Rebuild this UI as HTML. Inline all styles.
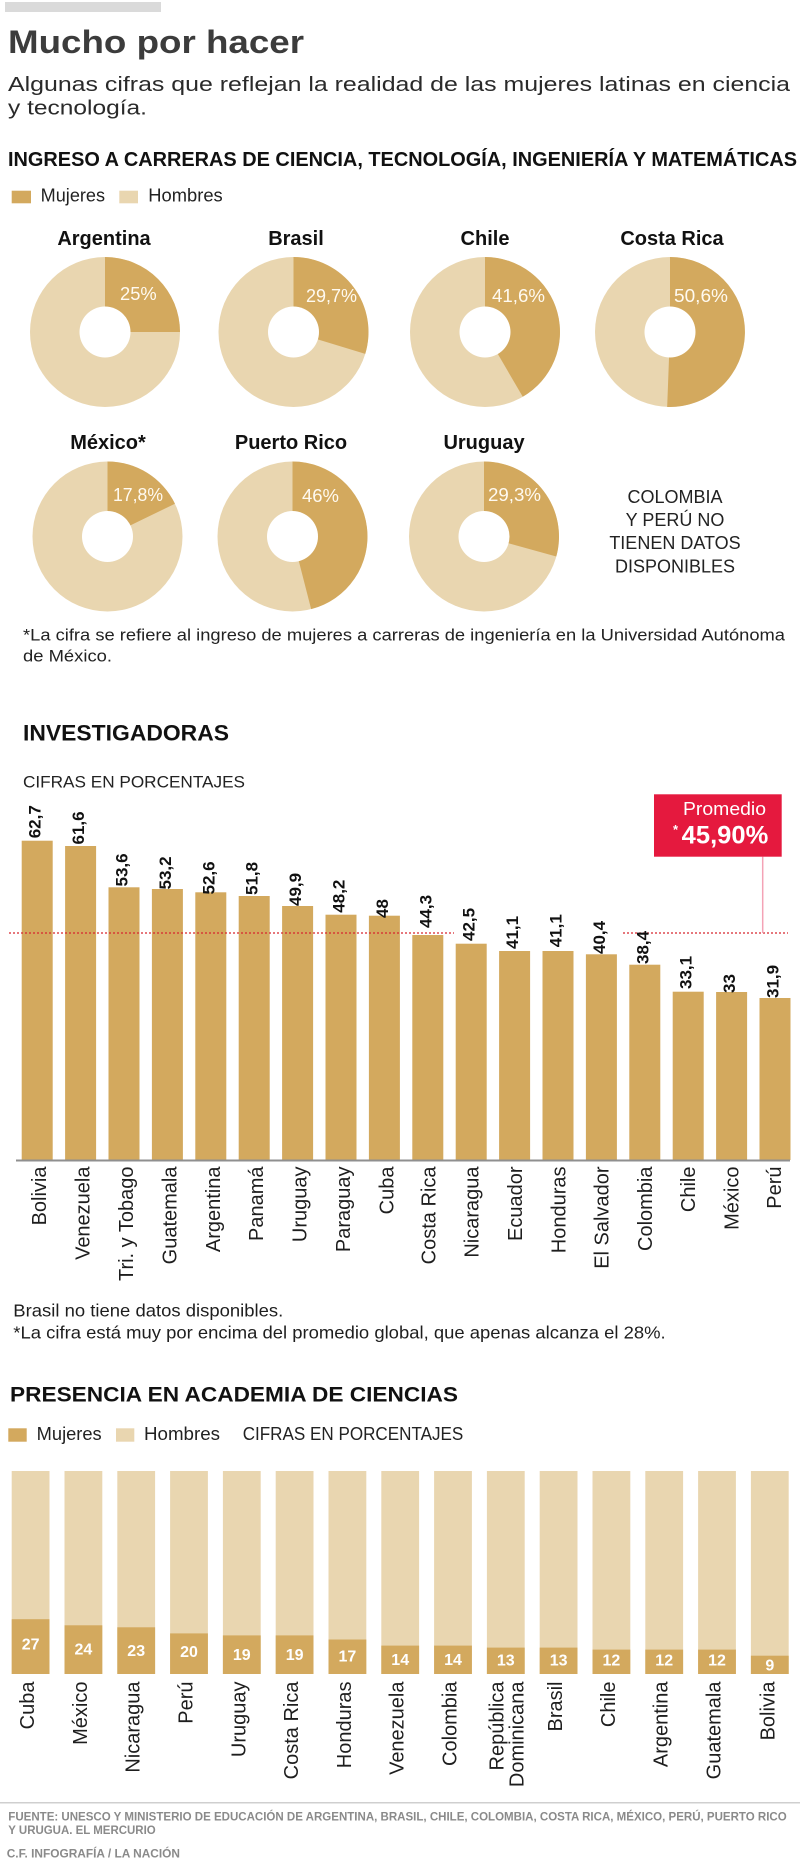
<!DOCTYPE html>
<html>
<head>
<meta charset="utf-8">
<style>
html,body{margin:0;padding:0;background:#fff;}
svg{display:block;}
text{font-family:"Liberation Sans","DejaVu Sans",sans-serif;}
</style>
</head>
<body>
<svg width="800" height="1869" viewBox="0 0 800 1869" xmlns="http://www.w3.org/2000/svg">
<rect x="0" y="0" width="800" height="1869" fill="#fff"/>
<!-- top gray bar -->
<rect x="5" y="2" width="156" height="10" fill="#dadada"/>
<!-- title -->
<text x="8" y="53" font-size="32" font-weight="bold" fill="#3c3c3c" textLength="296" lengthAdjust="spacingAndGlyphs">Mucho por hacer</text>
<text x="8" y="91" font-size="20.5" fill="#2a2a2a" textLength="782" lengthAdjust="spacingAndGlyphs">Algunas cifras que reflejan la realidad de las mujeres latinas en ciencia</text>
<text x="8" y="114.5" font-size="20.5" fill="#2a2a2a" textLength="139" lengthAdjust="spacingAndGlyphs">y tecnología.</text>

<!-- section 1 -->
<text x="8" y="166" font-size="20" font-weight="bold" fill="#111" textLength="789" lengthAdjust="spacingAndGlyphs">INGRESO A CARRERAS DE CIENCIA, TECNOLOGÍA, INGENIERÍA Y MATEMÁTICAS</text>
<rect x="11.7" y="190.7" width="19.3" height="12.6" fill="#d3a95e"/>
<text x="40.7" y="201.7" font-size="18" fill="#222" textLength="64.3" lengthAdjust="spacingAndGlyphs">Mujeres</text>
<rect x="119.3" y="190.7" width="18.7" height="12.6" fill="#e9d6b0"/>
<text x="148.3" y="201.7" font-size="18" fill="#222" textLength="74.4" lengthAdjust="spacingAndGlyphs">Hombres</text>

<g font-size="20" font-weight="bold" fill="#111" text-anchor="middle">
<text x="104" y="245">Argentina</text>
<text x="296" y="245">Brasil</text>
<text x="485" y="245">Chile</text>
<text x="672" y="245">Costa Rica</text>
<text x="108" y="449">México*</text>
<text x="291" y="449">Puerto Rico</text>
<text x="484" y="449">Uruguay</text>
</g>

<!-- donuts -->
<g>
<circle cx="105" cy="332" r="75" fill="#e9d6b0"/>
<path d="M105 332 L105 257 A75 75 0 0 1 180 332 Z" fill="#d3a95e"/>
<circle cx="105" cy="332" r="25.5" fill="#fff"/>

<circle cx="293.5" cy="332" r="75" fill="#e9d6b0"/>
<path d="M293.5 332 L293.5 257 A75 75 0 0 1 365.25 353.83 Z" fill="#d3a95e"/>
<circle cx="293.5" cy="332" r="25.5" fill="#fff"/>

<circle cx="485" cy="332" r="75" fill="#e9d6b0"/>
<path d="M485 332 L485 257 A75 75 0 0 1 522.77 396.79 Z" fill="#d3a95e"/>
<circle cx="485" cy="332" r="25.5" fill="#fff"/>

<circle cx="670" cy="332" r="75" fill="#e9d6b0"/>
<path d="M670 332 L670 257 A75 75 0 1 1 667.17 406.95 Z" fill="#d3a95e"/>
<circle cx="670" cy="332" r="25.5" fill="#fff"/>

<circle cx="107.5" cy="536.5" r="75" fill="#e9d6b0"/>
<path d="M107.5 536.5 L107.5 461.5 A75 75 0 0 1 174.96 503.72 Z" fill="#d3a95e"/>
<circle cx="107.5" cy="536.5" r="25.5" fill="#fff"/>

<circle cx="292.5" cy="536.5" r="75" fill="#e9d6b0"/>
<path d="M292.5 536.5 L292.5 461.5 A75 75 0 0 1 311.15 609.14 Z" fill="#d3a95e"/>
<circle cx="292.5" cy="536.5" r="25.5" fill="#fff"/>

<circle cx="484" cy="536.5" r="75" fill="#e9d6b0"/>
<path d="M484 536.5 L484 461.5 A75 75 0 0 1 556.28 556.52 Z" fill="#d3a95e"/>
<circle cx="484" cy="536.5" r="25.5" fill="#fff"/>
</g>
<g font-size="18" fill="#fffaf0">
<text x="120" y="300" textLength="36.7" lengthAdjust="spacingAndGlyphs">25%</text>
<text x="306" y="302" textLength="51" lengthAdjust="spacingAndGlyphs">29,7%</text>
<text x="492" y="302" textLength="53" lengthAdjust="spacingAndGlyphs">41,6%</text>
<text x="674" y="302" textLength="54" lengthAdjust="spacingAndGlyphs">50,6%</text>
<text x="113" y="501" textLength="50" lengthAdjust="spacingAndGlyphs">17,8%</text>
<text x="302" y="502" textLength="37" lengthAdjust="spacingAndGlyphs">46%</text>
<text x="488" y="501" textLength="53" lengthAdjust="spacingAndGlyphs">29,3%</text>
</g>
<g font-size="18" fill="#222" text-anchor="middle">
<text x="675" y="503">COLOMBIA</text>
<text x="675" y="526">Y PERÚ NO</text>
<text x="675" y="549">TIENEN DATOS</text>
<text x="675" y="572.5">DISPONIBLES</text>
</g>
<text x="23" y="640.7" font-size="17" fill="#222" textLength="762" lengthAdjust="spacingAndGlyphs">*La cifra se refiere al ingreso de mujeres a carreras de ingeniería en la Universidad Autónoma</text>
<text x="23" y="661.7" font-size="17" fill="#222" textLength="89" lengthAdjust="spacingAndGlyphs">de México.</text>

<!-- section 2 -->
<text x="23" y="740.7" font-size="22" font-weight="bold" fill="#111" textLength="206" lengthAdjust="spacingAndGlyphs">INVESTIGADORAS</text>
<text x="23" y="787.3" font-size="17" fill="#222" textLength="222" lengthAdjust="spacingAndGlyphs">CIFRAS EN PORCENTAJES</text>

<!-- bars -->
<g fill="#d3a95e">
<rect x="21.7" y="840.7" width="31" height="319.3"/>
<rect x="65.1" y="846" width="31" height="314"/>
<rect x="108.5" y="887.3" width="31" height="272.7"/>
<rect x="151.9" y="889" width="31" height="271"/>
<rect x="195.3" y="892.3" width="31" height="267.7"/>
<rect x="238.7" y="896" width="31" height="264"/>
<rect x="282.1" y="906" width="31" height="254"/>
<rect x="325.5" y="914.7" width="31" height="245.3"/>
<rect x="368.9" y="915.7" width="31" height="244.3"/>
<rect x="412.3" y="935" width="31" height="225"/>
<rect x="455.7" y="943.7" width="31" height="216.3"/>
<rect x="499.1" y="951" width="31" height="209"/>
<rect x="542.5" y="951" width="31" height="209"/>
<rect x="585.9" y="954.3" width="31" height="205.7"/>
<rect x="629.3" y="964.7" width="31" height="195.3"/>
<rect x="672.7" y="991.7" width="31" height="168.3"/>
<rect x="716.1" y="992" width="31" height="168"/>
<rect x="759.5" y="998" width="31" height="162"/>
</g>
<rect x="16" y="1159.5" width="774" height="2" fill="#8f8f8f"/>

<!-- average line -->
<line x1="9" y1="933" x2="454" y2="933" stroke="#d8262f" stroke-width="1.2" stroke-dasharray="2 2"/>
<line x1="623" y1="933" x2="788" y2="933" stroke="#d8262f" stroke-width="1.2" stroke-dasharray="2 2"/>
<line x1="762.7" y1="856.7" x2="762.7" y2="933" stroke="#f4a3b6" stroke-width="1.5"/>
<rect x="654" y="794.3" width="127.7" height="62.4" fill="#e5193e"/>
<text x="683" y="815" font-size="18" fill="#fff" textLength="83" lengthAdjust="spacingAndGlyphs">Promedio</text>
<text x="673" y="834" font-size="13" font-weight="bold" fill="#fff">*</text>
<text x="681.7" y="843.3" font-size="25" font-weight="bold" fill="#fff" textLength="86.6" lengthAdjust="spacingAndGlyphs">45,90%</text>

<!-- value labels -->
<g font-size="17" font-weight="bold" fill="#111">
<text transform="translate(40.7 838.3) rotate(-90)">62,7</text>
<text transform="translate(84.1 844.5) rotate(-90)">61,6</text>
<text transform="translate(127.5 886.5) rotate(-90)">53,6</text>
<text transform="translate(170.9 889.5) rotate(-90)">53,2</text>
<text transform="translate(214.3 894.5) rotate(-90)">52,6</text>
<text transform="translate(257.7 895) rotate(-90)">51,8</text>
<text transform="translate(301.1 906) rotate(-90)">49,9</text>
<text transform="translate(344.5 912.7) rotate(-90)">48,2</text>
<text transform="translate(387.9 918) rotate(-90)">48</text>
<text transform="translate(431.3 928) rotate(-90)">44,3</text>
<text transform="translate(474.7 941) rotate(-90)">42,5</text>
<text transform="translate(518.1 949) rotate(-90)">41,1</text>
<text transform="translate(561.5 947.3) rotate(-90)">41,1</text>
<text transform="translate(604.9 954) rotate(-90)">40,4</text>
<text transform="translate(648.3 964) rotate(-90)">38,4</text>
<text transform="translate(691.7 989) rotate(-90)">33,1</text>
<text transform="translate(735.1 993) rotate(-90)">33</text>
<text transform="translate(778.5 998) rotate(-90)">31,9</text>
</g>

<!-- country labels -->
<g font-size="20" fill="#1e1e1e" text-anchor="end">
<text transform="translate(46.2 1166.5) rotate(-90)">Bolivia</text>
<text transform="translate(89.6 1166.5) rotate(-90)">Venezuela</text>
<text transform="translate(133 1166.5) rotate(-90)">Tri. y Tobago</text>
<text transform="translate(176.4 1166.5) rotate(-90)">Guatemala</text>
<text transform="translate(219.8 1166.5) rotate(-90)">Argentina</text>
<text transform="translate(263.2 1166.5) rotate(-90)">Panamá</text>
<text transform="translate(306.6 1166.5) rotate(-90)">Uruguay</text>
<text transform="translate(350 1166.5) rotate(-90)">Paraguay</text>
<text transform="translate(393.4 1166.5) rotate(-90)">Cuba</text>
<text transform="translate(435.3 1166.5) rotate(-90)">Costa Rica</text>
<text transform="translate(478.7 1166.5) rotate(-90)">Nicaragua</text>
<text transform="translate(522.1 1166.5) rotate(-90)">Ecuador</text>
<text transform="translate(565.5 1166.5) rotate(-90)">Honduras</text>
<text transform="translate(608.4 1166.5) rotate(-90)">El Salvador</text>
<text transform="translate(651.8 1166.5) rotate(-90)">Colombia</text>
<text transform="translate(695.2 1166.5) rotate(-90)">Chile</text>
<text transform="translate(738.6 1166.5) rotate(-90)">México</text>
<text transform="translate(781 1166.5) rotate(-90)">Perú</text>
</g>

<text x="13.3" y="1316.7" font-size="17.5" fill="#1e1e1e" textLength="270" lengthAdjust="spacingAndGlyphs">Brasil no tiene datos disponibles.</text>
<text x="13.3" y="1338.3" font-size="17.5" fill="#1e1e1e" textLength="652.4" lengthAdjust="spacingAndGlyphs">*La cifra está muy por encima del promedio global, que apenas alcanza el 28%.</text>

<!-- section 3 -->
<text x="10" y="1401.7" font-size="21" font-weight="bold" fill="#111" textLength="448" lengthAdjust="spacingAndGlyphs">PRESENCIA EN ACADEMIA DE CIENCIAS</text>
<rect x="8.3" y="1428.3" width="18.4" height="13.4" fill="#d3a95e"/>
<text x="36.7" y="1440" font-size="18" fill="#222" textLength="65" lengthAdjust="spacingAndGlyphs">Mujeres</text>
<rect x="116" y="1428.3" width="18.3" height="13.4" fill="#e9d6b0"/>
<text x="144" y="1440" font-size="18" fill="#222" textLength="76" lengthAdjust="spacingAndGlyphs">Hombres</text>
<text x="242.7" y="1440" font-size="18" fill="#222" textLength="220.6" lengthAdjust="spacingAndGlyphs">CIFRAS EN PORCENTAJES</text>

<g fill="#e9d6b0">
<rect x="11.7" y="1471" width="37.8" height="203"/>
<rect x="64.5" y="1471" width="37.8" height="203"/>
<rect x="117.3" y="1471" width="37.8" height="203"/>
<rect x="170.1" y="1471" width="37.8" height="203"/>
<rect x="222.9" y="1471" width="37.8" height="203"/>
<rect x="275.7" y="1471" width="37.8" height="203"/>
<rect x="328.5" y="1471" width="37.8" height="203"/>
<rect x="381.3" y="1471" width="37.8" height="203"/>
<rect x="434.1" y="1471" width="37.8" height="203"/>
<rect x="486.9" y="1471" width="37.8" height="203"/>
<rect x="539.7" y="1471" width="37.8" height="203"/>
<rect x="592.5" y="1471" width="37.8" height="203"/>
<rect x="645.3" y="1471" width="37.8" height="203"/>
<rect x="698.1" y="1471" width="37.8" height="203"/>
<rect x="750.9" y="1471" width="37.8" height="203"/>
</g>
<g fill="#d3a95e">
<rect x="11.7" y="1619.2" width="37.8" height="54.8"/>
<rect x="64.5" y="1625.3" width="37.8" height="48.7"/>
<rect x="117.3" y="1627.3" width="37.8" height="46.7"/>
<rect x="170.1" y="1633.4" width="37.8" height="40.6"/>
<rect x="222.9" y="1635.4" width="37.8" height="38.6"/>
<rect x="275.7" y="1635.4" width="37.8" height="38.6"/>
<rect x="328.5" y="1639.5" width="37.8" height="34.5"/>
<rect x="381.3" y="1645.6" width="37.8" height="28.4"/>
<rect x="434.1" y="1645.6" width="37.8" height="28.4"/>
<rect x="486.9" y="1647.6" width="37.8" height="26.4"/>
<rect x="539.7" y="1647.6" width="37.8" height="26.4"/>
<rect x="592.5" y="1649.6" width="37.8" height="24.4"/>
<rect x="645.3" y="1649.6" width="37.8" height="24.4"/>
<rect x="698.1" y="1649.6" width="37.8" height="24.4"/>
<rect x="750.9" y="1655.7" width="37.8" height="18.3"/>
</g>
<g font-size="16" font-weight="bold" fill="#fff" text-anchor="middle">
<text x="30.6" y="1649.5">27</text>
<text x="83.4" y="1654.5">24</text>
<text x="136.2" y="1656">23</text>
<text x="189" y="1657">20</text>
<text x="241.8" y="1660">19</text>
<text x="294.6" y="1660">19</text>
<text x="347.4" y="1661.5">17</text>
<text x="400.2" y="1665">14</text>
<text x="453" y="1665">14</text>
<text x="505.8" y="1665.5">13</text>
<text x="558.6" y="1665.5">13</text>
<text x="611.4" y="1665.5">12</text>
<text x="664.2" y="1665.5">12</text>
<text x="717" y="1665.5">12</text>
<text x="769.8" y="1670.5">9</text>
</g>
<g font-size="20" fill="#1e1e1e" text-anchor="end">
<text transform="translate(34.1 1681.5) rotate(-90)">Cuba</text>
<text transform="translate(86.9 1681.5) rotate(-90)">México</text>
<text transform="translate(139.7 1681.5) rotate(-90)">Nicaragua</text>
<text transform="translate(192.5 1681.5) rotate(-90)">Perú</text>
<text transform="translate(245.3 1681.5) rotate(-90)">Uruguay</text>
<text transform="translate(298.1 1681.5) rotate(-90)">Costa Rica</text>
<text transform="translate(350.9 1681.5) rotate(-90)">Honduras</text>
<text transform="translate(403.7 1681.5) rotate(-90)">Venezuela</text>
<text transform="translate(456.5 1681.5) rotate(-90)">Colombia</text>
<text transform="translate(503.3 1681.5) rotate(-90)">República</text>
<text transform="translate(523.3 1681.5) rotate(-90)">Dominicana</text>
<text transform="translate(562.1 1681.5) rotate(-90)">Brasil</text>
<text transform="translate(614.9 1681.5) rotate(-90)">Chile</text>
<text transform="translate(667.7 1681.5) rotate(-90)">Argentina</text>
<text transform="translate(720.5 1681.5) rotate(-90)">Guatemala</text>
<text transform="translate(774.3 1681.5) rotate(-90)">Bolivia</text>
</g>

<!-- footer -->
<rect x="0" y="1802" width="800" height="1.5" fill="#cfcfcf"/>
<g font-size="12" font-weight="bold" fill="#8a8a8a">
<text x="8.3" y="1820.7" textLength="778.4" lengthAdjust="spacingAndGlyphs">FUENTE:  UNESCO Y MINISTERIO DE EDUCACIÓN DE ARGENTINA, BRASIL, CHILE, COLOMBIA, COSTA RICA, MÉXICO, PERÚ, PUERTO RICO</text>
<text x="8.3" y="1834" textLength="147.4" lengthAdjust="spacingAndGlyphs">Y URUGUA. EL MERCURIO</text>
<text x="6.7" y="1857.3" textLength="173.3" lengthAdjust="spacingAndGlyphs">C.F. INFOGRAFÍA / LA NACIÓN</text>
</g>
</svg>
</body>
</html>
